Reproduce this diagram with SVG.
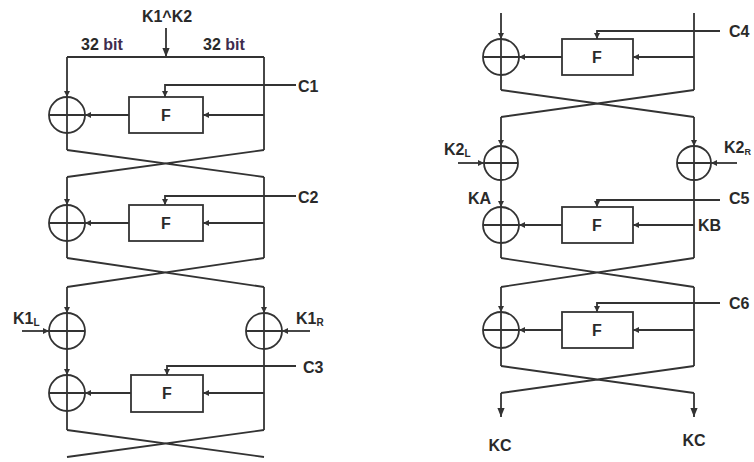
<svg xmlns="http://www.w3.org/2000/svg" width="754" height="462" viewBox="0 0 754 462">
<defs>
<marker id="ah" viewBox="0 0 10 10" refX="10" refY="5" markerWidth="6" markerHeight="6" markerUnits="userSpaceOnUse" orient="auto"><path d="M0,0 L10,5 L0,10 z" fill="#333"/></marker>
<marker id="ahb" viewBox="0 0 10 10" refX="10" refY="5" markerWidth="9" markerHeight="9" markerUnits="userSpaceOnUse" orient="auto"><path d="M0,1 L10,5 L0,9 z" fill="#333"/></marker>
</defs>
<style>
.l{fill:none;stroke:#333;stroke-width:1.8}
.a{fill:none;stroke:#333;stroke-width:1.8;marker-end:url(#ah)}
.ab{fill:none;stroke:#333;stroke-width:1.8;marker-end:url(#ahb)}
.x{fill:#fff;stroke:#333;stroke-width:1.8}
.f{fill:#fff;stroke:#333;stroke-width:1.8}
.t{font-family:"Liberation Sans",Arial,sans-serif;font-size:16px;font-weight:bold;fill:#2a2a2a}
.tb{font-family:"Liberation Sans",Arial,sans-serif;font-size:16px;font-weight:bold;fill:#2a2a2a}
.s{font-size:10px}
.p{fill:#3e2c4e}
</style>
<rect width="754" height="462" fill="#fff"/>

<g id="connectors">
<!-- left diagram -->
<path class="ab" d="M166,28 V57"/>
<path class="l" d="M67,57 H264"/>
<path class="a" d="M67,57 V97"/>
<path class="l" d="M67,133 V150"/>
<path class="l" d="M264,57 V150"/>
<path class="a" d="M296,85 H165 V97"/>
<path class="a" d="M264,115 H203"/>
<path class="a" d="M129,115 H85"/>
<path class="l" d="M67,150 L264,177 M264,150 L67,177"/>

<path class="a" d="M67,177 V205"/>
<path class="l" d="M67,241 V258"/>
<path class="l" d="M264,177 V258"/>
<path class="a" d="M296,196 H165 V205"/>
<path class="a" d="M264,223 H203"/>
<path class="a" d="M129,223 H85"/>
<path class="l" d="M67,258 L264,287 M264,258 L67,287"/>

<path class="a" d="M67,287 V313"/>
<path class="a" d="M264,287 V313"/>
<path class="a" d="M22,331 H49"/>
<path class="a" d="M310,331 H282"/>
<path class="a" d="M67,349 V375"/>
<path class="l" d="M67,411 V430"/>
<path class="l" d="M264,349 V430"/>
<path class="a" d="M296,366 H167 V375"/>
<path class="a" d="M264,393 H203"/>
<path class="a" d="M131,393 H85"/>
<path class="l" d="M67,430 L264,457 M264,430 L67,457"/>

<!-- right diagram -->
<path class="a" d="M501,13 V39"/>
<path class="l" d="M501,75 V90"/>
<path class="l" d="M694,13 V90"/>
<path class="a" d="M720,31 H597 V39"/>
<path class="a" d="M694,57 H633"/>
<path class="a" d="M562,57 H519"/>
<path class="l" d="M501,90 L694,117 M694,90 L501,117"/>

<path class="a" d="M501,117 V146"/>
<path class="a" d="M694,117 V146"/>
<path class="a" d="M458,163 H484"/>
<path class="a" d="M737,163 H711"/>
<path class="a" d="M501,180 V207"/>
<path class="l" d="M501,243 V258"/>
<path class="l" d="M694,180 V258"/>
<path class="a" d="M720,200 H597 V207"/>
<path class="a" d="M694,225 H633"/>
<path class="a" d="M562,225 H519"/>
<path class="l" d="M501,258 L694,287 M694,258 L501,287"/>

<path class="a" d="M501,287 V312"/>
<path class="l" d="M501,348 V366"/>
<path class="l" d="M694,287 V366"/>
<path class="a" d="M720,303 H597 V312"/>
<path class="a" d="M694,330 H633"/>
<path class="a" d="M562,330 H519"/>
<path class="l" d="M501,366 L694,393 M694,366 L501,393"/>
<path class="ab" d="M501,393 V417"/>
<path class="ab" d="M694,393 V417"/>
</g>

<!-- left diagram nodes -->
<g id="xor1"><circle class="x" cx="67" cy="115" r="18"/><path class="l" d="M67,97 V133 M49,115 H85"/></g>
<g id="f1"><rect class="f" x="129" y="97" width="74" height="36"/><text class="tb" x="166" y="121" text-anchor="middle">F</text></g>
<g id="xor2"><circle class="x" cx="67" cy="223" r="18"/><path class="l" d="M67,205 V241 M49,223 H85"/></g>
<g id="f2"><rect class="f" x="129" y="205" width="74" height="36"/><text class="tb" x="166" y="229" text-anchor="middle">F</text></g>
<g id="xork1l"><circle class="x" cx="67" cy="331" r="18"/><path class="l" d="M67,313 V349 M49,331 H85"/></g>
<g id="xork1r"><circle class="x" cx="264" cy="331" r="18"/><path class="l" d="M264,313 V349 M246,331 H282"/></g>
<g id="xor3"><circle class="x" cx="67" cy="393" r="18"/><path class="l" d="M67,375 V411 M49,393 H85"/></g>
<g id="f3"><rect class="f" x="131" y="375" width="72" height="37"/><text class="tb" x="167" y="399" text-anchor="middle">F</text></g>

<!-- right diagram nodes -->
<g id="xor4"><circle class="x" cx="501" cy="57" r="18"/><path class="l" d="M501,39 V75 M483,57 H519"/></g>
<g id="f4"><rect class="f" x="562" y="39" width="71" height="36"/><text class="tb" x="597" y="63" text-anchor="middle">F</text></g>
<g id="xork2l"><circle class="x" cx="501" cy="163" r="17"/><path class="l" d="M501,146 V180 M484,163 H518"/></g>
<g id="xork2r"><circle class="x" cx="694" cy="163" r="17"/><path class="l" d="M694,146 V180 M677,163 H711"/></g>
<g id="xor5"><circle class="x" cx="501" cy="225" r="18"/><path class="l" d="M501,207 V243 M483,225 H519"/></g>
<g id="f5"><rect class="f" x="562" y="207" width="71" height="36"/><text class="tb" x="597" y="231" text-anchor="middle">F</text></g>
<g id="xor6"><circle class="x" cx="501" cy="330" r="18"/><path class="l" d="M501,312 V348 M483,330 H519"/></g>
<g id="f6"><rect class="f" x="562" y="312" width="71" height="36"/><text class="tb" x="597" y="336" text-anchor="middle">F</text></g>

<g id="labels">
<text class="t" x="167" y="22" text-anchor="middle">K1^K2</text>
<text class="t" x="102" y="50" text-anchor="middle">32 <tspan class="p">bit</tspan></text>
<text class="t" x="224" y="50" text-anchor="middle">32 <tspan class="p">bit</tspan></text>
<text class="t" x="298" y="92">C1</text>
<text class="t" x="298" y="203">C2</text>
<text class="t" x="303" y="373">C3</text>
<text class="t" x="13" y="324">K1<tspan class="s" dy="2">L</tspan></text>
<text class="t" x="296" y="324">K1<tspan class="s" dy="2">R</tspan></text>
<text class="t" x="729" y="37">C4</text>
<text class="t" x="444" y="155">K2<tspan class="s" dy="2">L</tspan></text>
<text class="t" x="724" y="153">K2<tspan class="s" dy="2" style="font-size:9px">R</tspan></text>
<text class="t" x="468" y="204">KA</text>
<text class="t" x="698" y="231">KB</text>
<text class="t" x="729" y="204">C5</text>
<text class="t" x="729" y="309">C6</text>
<text class="t" x="500" y="451" text-anchor="middle">KC</text>
<text class="t" x="694" y="446" text-anchor="middle">KC</text>
</g>
</svg>
